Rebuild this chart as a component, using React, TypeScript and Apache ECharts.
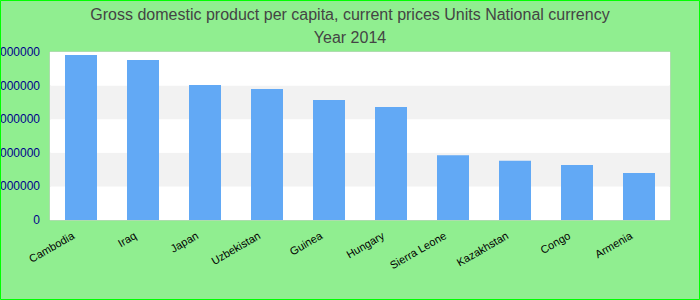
import React, { useEffect, useRef } from "react";
import * as echarts from "echarts";

const titleLines = ["Gross domestic product per capita, current prices Units National currency", "Year 2014"];
const categories = ["Cambodia", "Iraq", "Japan", "Uzbekistan", "Guinea", "Hungary", "Sierra Leone", "Kazakhstan", "Congo", "Armenia"];
const values = [4910000, 4760000, 4020000, 3900000, 3570000, 3360000, 1930000, 1760000, 1640000, 1400000];
const yMin = 0;
const yMax = 5000000;
const yInterval = 1000000;

export default function App() {
  const ref = useRef<HTMLDivElement>(null);
  useEffect(() => {
    if (!ref.current) return;
    const chart = echarts.init(ref.current, null, { renderer: "svg" });
    chart.setOption({
      animation: false,
      backgroundColor: "#90ee90",
      title: {
        text: titleLines.join("\n"),
        left: "center",
        top: -2,
        textStyle: { fontFamily: "Arial, Liberation Sans, sans-serif", fontSize: 16, fontWeight: "normal", color: "#444", lineHeight: 23 },
      },
      grid: {
        left: 50,
        right: 30,
        top: 52,
        bottom: 80,
        outerBoundsMode: "none",
        containLabel: false,
        show: true,
        backgroundColor: "#fff",
        borderColor: "#ccc",
        borderWidth: 1,
      },
      xAxis: {
        type: "category",
        data: categories,
        axisLine: { show: false },
        axisTick: { show: false },
        axisLabel: {
          interval: 0,
          rotate: 30,
          fontSize: 11,
          color: "#000",
          fontFamily: "Arial, Liberation Sans, sans-serif",
          margin: 10,
          padding: [0, 9, 0, 0],
        },
      },
      yAxis: {
        type: "value",
        min: yMin,
        max: yMax,
        interval: yInterval,
        axisLine: { show: false },
        axisTick: { show: false },
        splitLine: { show: false },
        splitArea: { show: true, areaStyle: { color: ["#ffffff", "#f2f2f2"] } },
        axisLabel: {
          fontSize: 12,
          color: "#00008b",
          fontFamily: "Arial, Liberation Sans, sans-serif",
          margin: 10,
          formatter: (v: number) => String(v),
        },
      },
      series: [
        {
          type: "bar",
          data: values,
          barWidth: 32,
          itemStyle: { color: "#62a9f5" },
        },
      ],
      graphic: [
        {
          type: "rect",
          shape: { x: 0.5, y: 0.5, width: 699, height: 299 },
          style: { fill: "none", stroke: "#00ff00", lineWidth: 1 },
          z: 100,
        },
      ],
    });
    return () => chart.dispose();
  }, []);
  return <div ref={ref} style={{ position: "fixed", left: 0, top: 0, width: 700, height: 300 }} />;
}
